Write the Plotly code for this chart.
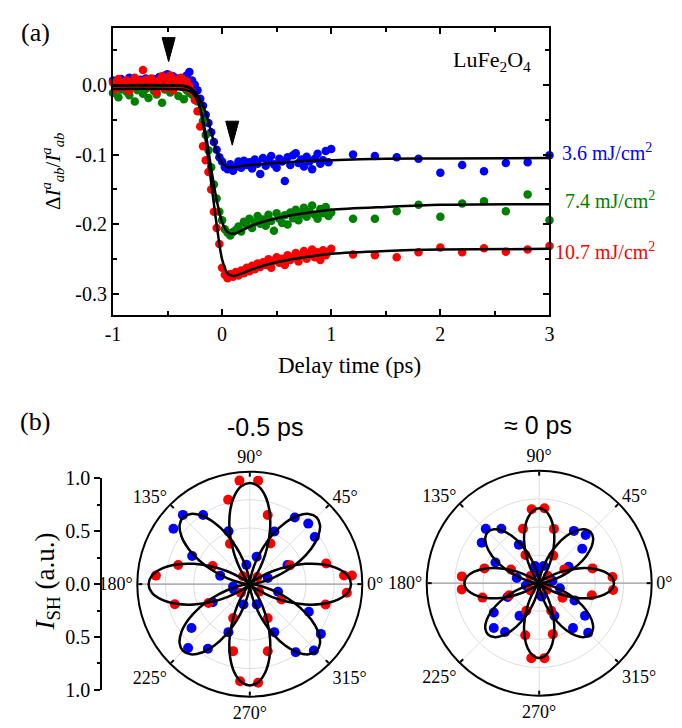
import plotly.graph_objects as go

W, H = 682, 728
SERIF = "Liberation Serif"
SANS = "Liberation Sans"

# ---------------- panel (a) data ----------------
delay_ps = [-1.0, -0.975, -0.95, -0.925, -0.9, -0.875, -0.85, -0.825, -0.8, -0.775,
            -0.75, -0.725, -0.7, -0.675, -0.65, -0.625, -0.6, -0.575, -0.55, -0.525,
            -0.5, -0.475, -0.45, -0.425, -0.4, -0.375, -0.35, -0.325, -0.3, -0.275,
            -0.25, -0.225, -0.2, -0.175, -0.15, -0.125, -0.1, -0.075, -0.05, -0.025,
            0.0, 0.025, 0.05, 0.075, 0.1, 0.125, 0.15, 0.175, 0.2, 0.225,
            0.25, 0.275, 0.3, 0.325, 0.35, 0.375, 0.4, 0.425, 0.45, 0.475,
            0.5, 0.525, 0.55, 0.575, 0.6, 0.625, 0.65, 0.675, 0.7, 0.725,
            0.75, 0.775, 0.8, 0.825, 0.85, 0.875, 0.9, 0.925, 0.95, 0.975,
            1.0, 1.2, 1.4, 1.6, 1.8, 2.0, 2.2, 2.4, 2.6, 2.8, 3.0]

signal_3p6 = [0.006, -0.005, 0.003, 0.008, -0.002, 0.004, 0.010, 0.001, 0.006, -0.003,
              0.007, 0.002, 0.009, 0.004, -0.001, 0.008, 0.005, 0.011, 0.003, 0.013,
              0.015, 0.007, 0.012, 0.004, 0.009, 0.002, 0.008, 0.013, 0.018, 0.006,
              0.000, -0.008, -0.020, -0.030, -0.043, -0.055, -0.068, -0.082, -0.093, -0.104,
              -0.110, -0.118, -0.121, -0.114, -0.123, -0.117, -0.110, -0.119, -0.109, -0.115,
              -0.111, -0.120, -0.107, -0.113, -0.128, -0.105, -0.116, -0.109, -0.102, -0.114,
              -0.119, -0.106, -0.110, -0.138, -0.104, -0.115, -0.101, -0.098, -0.112, -0.107,
              -0.117, -0.103, -0.110, -0.121, -0.106, -0.099, -0.113, -0.108, -0.095, -0.111,
              -0.092, -0.100, -0.102, -0.104, -0.106, -0.126, -0.115, -0.124, -0.112, -0.111, -0.101]

signal_7p4 = [-0.012, -0.004, -0.018, -0.007, 0.002, -0.010, -0.015, -0.003, -0.024, -0.008,
              -0.001, -0.013, -0.006, -0.019, 0.004, -0.009, -0.014, -0.002, -0.026, -0.007,
              0.008, -0.011, -0.004, 0.006, -0.016, -0.003, -0.021, -0.008, -0.012, -0.014,
              -0.018, -0.024, -0.038, -0.052, -0.072, -0.094, -0.118, -0.143, -0.163, -0.182,
              -0.194, -0.207, -0.212, -0.216, -0.211, -0.208, -0.203, -0.210, -0.196, -0.201,
              -0.192, -0.205, -0.197, -0.188, -0.199, -0.193, -0.202, -0.186, -0.195, -0.209,
              -0.184, -0.192, -0.198, -0.187, -0.200, -0.183, -0.191, -0.179, -0.194, -0.185,
              -0.176, -0.189, -0.182, -0.173, -0.186, -0.192, -0.178, -0.184, -0.175, -0.188,
              -0.183, -0.192, -0.192, -0.181, -0.172, -0.189, -0.170, -0.167, -0.181, -0.157, -0.194]

signal_10p7 = [0.003, -0.006, 0.008, 0.001, -0.004, 0.006, -0.009, 0.004, 0.010, -0.002,
               0.005, 0.021, 0.007, -0.003, 0.009, 0.002, -0.011, 0.006, 0.012, -0.005,
               0.004, 0.013, -0.008, 0.007, 0.001, 0.010, -0.004, 0.005, -0.002, -0.010,
               -0.022, -0.038, -0.060, -0.088, -0.108, -0.125, -0.150, -0.182, -0.205, -0.228,
               -0.262, -0.272, -0.277, -0.271, -0.275, -0.268, -0.273, -0.266, -0.270, -0.262,
               -0.267, -0.259, -0.264, -0.256, -0.261, -0.254, -0.258, -0.250, -0.262, -0.252,
               -0.247, -0.255, -0.249, -0.258, -0.244, -0.251, -0.247, -0.241, -0.253, -0.245,
               -0.238, -0.249, -0.242, -0.236, -0.247, -0.240, -0.251, -0.237, -0.244, -0.239,
               -0.235, -0.243, -0.244, -0.247, -0.240, -0.233, -0.240, -0.234, -0.239, -0.236, -0.231]

# fitted curves
fit_t_3p6 = [-1.0, -0.5, -0.35, -0.3, -0.25, -0.2, -0.15, -0.1, -0.05, 0.0, 0.05, 0.1,
             0.2, 0.4, 0.6, 0.8, 1.0, 1.5, 2.0, 3.0]
fit_3p6 = [-0.001, -0.001, -0.002, -0.004, -0.010, -0.022, -0.040, -0.068, -0.095, -0.112,
           -0.118, -0.118, -0.116, -0.113, -0.111, -0.109, -0.108, -0.106, -0.1055, -0.105]
fit_t_7p4 = [-1.0, -0.35, -0.3, -0.25, -0.2, -0.15, -0.1, -0.05, 0.0, 0.05, 0.1, 0.15,
             0.2, 0.3, 0.4, 0.6, 0.8, 1.0, 1.5, 2.0, 3.0]
fit_7p4 = [-0.006, -0.007, -0.009, -0.016, -0.035, -0.070, -0.120, -0.165, -0.197, -0.211,
           -0.2135, -0.211, -0.207, -0.200, -0.195, -0.188, -0.183, -0.179, -0.175, -0.172, -0.171]
fit_t_10p7 = fit_t_7p4
fit_10p7 = [-0.001, -0.002, -0.005, -0.012, -0.035, -0.080, -0.140, -0.200, -0.250, -0.270,
            -0.274, -0.272, -0.269, -0.263, -0.258, -0.251, -0.246, -0.242, -0.238, -0.236, -0.235]

series_names = ["3.6 mJ/cm<sup>2</sup>", "7.4 mJ/cm<sup>2</sup>", "10.7 mJ/cm<sup>2</sup>"]
series_colors = ["#0000FF", "#008000", "#FF0000"]

arrow_t = [-0.49, 0.093]
arrow_tip = [0.033, -0.0866]

# ---------------- panel (b) data ----------------
pol_angles = [0, 45, 90, 135, 180, 225, 270, 315]
pol_labels = ["0°", "45°", "90°", "135°", "180°", "225°", "270°", "315°"]

m05_red_theta = [95.7, 85.4, 104.4, 75.5, 116.2, 63, 131, 43.7, 224, 321, 25.2, 15.1, 5.2, 4.8,
                 354.9, 345, 334, 174.8, 165, 195, 153.9, 204.6, 244, 297.7, 256, 285, 264.3, 274.8]
m05_red_r = [0.925, 0.923, 0.774, 0.635, 0.40, 0.405, 0.093, 0.093, 0.11, 0.107, 0.395, 0.703, 0.841, 0.911,
             0.866, 0.697, 0.313, 0.838, 0.659, 0.69, 0.368, 0.404, 0.336, 0.342, 0.614, 0.617, 0.867, 0.88]
m05_blue_theta = [134, 124, 144, 154, 112, 164, 100, 76, 65, 56, 46, 36, 27, 345, 335, 325, 314,
                  304, 297, 289, 253, 246, 237, 226, 217, 206, 188, 19, 198]
m05_blue_r = [0.856, 0.742, 0.839, 0.57, 0.506, 0.274, 0.174, 0.252, 0.517, 0.715, 0.748, 0.714, 0.376,
              0.26, 0.579, 0.771, 0.82, 0.73, 0.479, 0.19, 0.19, 0.467, 0.684, 0.79, 0.649, 0.367, 0.15, 0.17, 0.15]

z0_red_theta = [95.8, 86, 106.6, 74.8, 116, 63, 4.8, 354.7, 15.5, 347, 28.7, 328, 175, 184.6, 164.9,
                194.3, 154, 202, 245, 293.6, 255, 285, 264, 274, 40, 140, 220, 320]
z0_red_r = [0.66, 0.668, 0.504, 0.50, 0.279, 0.275, 0.654, 0.66, 0.492, 0.48, 0.255, 0.244, 0.69, 0.69, 0.504,
            0.52, 0.279, 0.287, 0.27, 0.267, 0.48, 0.469, 0.67, 0.668, 0.10, 0.10, 0.10, 0.09]
z0_blue_theta = [134.5, 124.8, 144.8, 154.7, 117.8, 167, 103.5, 75.4, 56.4, 46, 38.7, 29, 346, 334, 324.5,
                 314.6, 307, 295, 212.8, 224.6, 235, 203.5, 239, 10, 190, 280, 100]
z0_blue_r = [0.677, 0.589, 0.625, 0.43, 0.387, 0.204, 0.157, 0.158, 0.558, 0.595, 0.49, 0.30, 0.19, 0.35, 0.5,
             0.62, 0.50, 0.32, 0.48, 0.567, 0.53, 0.307, 0.339, 0.12, 0.12, 0.12, 0.10]

# petal outline of the fit, offsets (deg) and relative radius
petal_offsets = [-45, -40, -35, -30, -25, -20, -15, -10, -5, 0, 5, 10, 15, 20, 25, 30, 35, 40, 45]
petal_profile = [0.0, 0.030, 0.117, 0.250, 0.413, 0.587, 0.750, 0.883, 0.970, 1.0,
                 0.970, 0.883, 0.750, 0.587, 0.413, 0.250, 0.117, 0.030, 0.0]
red_petal_centers = [0, 90, 180, 270]
blue_petal_centers = [45, 135, 225, 315]
m05_amp = {"red": 0.90, "blue": 0.84}
z0_amp = {"red": 0.665, "blue": 0.645}

grid_cross = [0, 180]


def petals(centers, amp):
    th, rr = [], []
    for c in centers:
        th += [c + o for o in petal_offsets]
        rr += [amp * p for p in petal_profile]
    return th, rr


fig = go.Figure()

# ---- panel (a)
sigs = [signal_3p6, signal_7p4, signal_10p7]
for s, col in zip(sigs, series_colors):
    fig.add_trace(go.Scatter(x=delay_ps, y=s, mode="markers", cliponaxis=False,
                             marker=dict(color=col, size=8.5, line=dict(width=0)),
                             hoverinfo="skip", showlegend=False))
for ft, fy in [(fit_t_3p6, fit_3p6), (fit_t_7p4, fit_7p4), (fit_t_10p7, fit_10p7)]:
    fig.add_trace(go.Scatter(x=ft, y=fy, mode="lines",
                             line=dict(color="black", width=2.5, shape="spline", smoothing=0.8),
                             hoverinfo="skip", showlegend=False))

# ---- panel (b) polar plots
def add_polar(subplot, red_t, red_r, blue_t, blue_r, amp):
    # gray cross lines
    for a in grid_cross:
        fig.add_trace(go.Scatterpolar(theta=[a, a, a + 180], r=[1, 0, 1], mode="lines",
                                      line=dict(color="#aaaaaa", width=1), subplot=subplot,
                                      hoverinfo="skip", showlegend=False))
    fig.add_trace(go.Scatterpolar(theta=blue_t, r=blue_r, mode="markers", subplot=subplot,
                                  marker=dict(color="#0000FF", size=10), hoverinfo="skip",
                                  showlegend=False))
    fig.add_trace(go.Scatterpolar(theta=red_t, r=red_r, mode="markers", subplot=subplot,
                                  marker=dict(color="#FF0000", size=10), hoverinfo="skip",
                                  showlegend=False))
    for centers, key in [(red_petal_centers, "red"), (blue_petal_centers, "blue")]:
        th, rr = petals(centers, amp[key])
        fig.add_trace(go.Scatterpolar(theta=th, r=rr, mode="lines", subplot=subplot,
                                      line=dict(color="black", width=2.5, shape="spline"),
                                      hoverinfo="skip", showlegend=False))


add_polar("polar", m05_red_theta, m05_red_r, m05_blue_theta, m05_blue_r, m05_amp)
add_polar("polar2", z0_red_theta, z0_red_r, z0_blue_theta, z0_blue_r, z0_amp)

# helper axis for I_SH scale
fig.add_trace(go.Scatter(x=[0], y=[0], xaxis="x2", yaxis="y2", mode="markers",
                         marker=dict(size=1, opacity=0), hoverinfo="skip", showlegend=False))

tickfont = dict(family=SERIF, size=20, color="black")
polfont = dict(family=SERIF, size=18, color="black")


def px_x(p):
    return p / W


def px_y(p):
    return 1 - p / H


polar_common = dict(
    bgcolor="white",
    angularaxis=dict(rotation=0, direction="counterclockwise", tickmode="array",
                     tickvals=pol_angles, ticktext=pol_labels, tickfont=polfont,
                     ticks="inside", ticklen=4, tickwidth=2, tickcolor="black",
                     showline=True, linecolor="black", linewidth=2,
                     showgrid=True, gridcolor="#dddddd", gridwidth=1),
    radialaxis=dict(range=[0, 1], showticklabels=False, ticks="", showline=False,
                    tickvals=[0.25, 0.5, 0.75], showgrid=True, gridcolor="#dddddd", gridwidth=1),
)

# polar circles: centre and half-size of domain
p1c, p1h = (246.5, 591.0), 116.0
p2c, p2h = (541.5, 590.0), 116.0

fig.update_layout(
    width=W, height=H, margin=dict(l=0, r=0, t=0, b=0),
    paper_bgcolor="white", plot_bgcolor="white", showlegend=False,
    xaxis=dict(domain=[px_x(107), px_x(552)], range=[-1, 3], tickmode="array",
               tickvals=[-1, 0, 1, 2, 3], ticktext=["-1", "0", "1", "2", "3"],
               ticks="inside", ticklen=6, tickwidth=2, tickcolor="black",
               minor=dict(tickvals=[-0.5, 0.5, 1.5, 2.5], ticks="inside", ticklen=4,
                          tickwidth=2, tickcolor="black"),
               showline=True, linecolor="black", linewidth=2, mirror="allticks",
               showgrid=False, zeroline=False, tickfont=tickfont, anchor="y"),
    yaxis=dict(domain=[px_y(313), px_y(18)], range=[-0.329, 0.0805], tickmode="array",
               tickvals=[0, -0.1, -0.2, -0.3], ticktext=["0.0", "-0.1", "-0.2", "-0.3"],
               ticks="inside", ticklen=6, tickwidth=2, tickcolor="black",
               minor=dict(tickvals=[0.05, -0.05, -0.15, -0.25], ticks="inside", ticklen=4,
                          tickwidth=2, tickcolor="black"),
               showline=True, linecolor="black", linewidth=2, mirror="allticks",
               showgrid=False, zeroline=False, tickfont=tickfont, anchor="x"),
    xaxis2=dict(domain=[0.13, 0.14], visible=False, anchor="y2", range=[-1, 1]),
    yaxis2=dict(domain=[px_y(700), px_y(482)], range=[-1, 1], anchor="free",
                position=px_x(95), tickmode="array", tickvals=[-1, -0.5, 0, 0.5, 1],
                ticktext=["1.0", "0.5", "0.0", "0.5", "1.0"], ticks="outside", ticklen=6,
                tickwidth=2, tickcolor="black",
                minor=dict(tickvals=[-0.75, -0.25, 0.25, 0.75], ticks="outside", ticklen=3,
                           tickwidth=2, tickcolor="black"),
                showline=True, linecolor="black", linewidth=2, showgrid=False,
                zeroline=False, tickfont=tickfont),
    polar=dict(domain=dict(x=[px_x(p1c[0] - p1h), px_x(p1c[0] + p1h)],
                           y=[px_y(p1c[1] + p1h), px_y(p1c[1] - p1h)]), **polar_common),
    polar2=dict(domain=dict(x=[px_x(p2c[0] - p2h), px_x(p2c[0] + p2h)],
                            y=[px_y(p2c[1] + p2h), px_y(p2c[1] - p2h)]), **polar_common),
)

# arrows (pixel-sized triangles anchored at their tips)
for t, yt in zip(arrow_t, arrow_tip):
    fig.add_shape(type="path", xref="x", yref="y", xsizemode="pixel", ysizemode="pixel",
                  xanchor=t, yanchor=yt, path="M 0 0 L -6.5 24 L 6.5 24 Z",
                  fillcolor="black", line=dict(color="black", width=1))

ann = []
ann.append(dict(text="(a)", x=px_x(28), y=px_y(22), font=dict(family=SERIF, size=26)))
ann.append(dict(text="(b)", x=px_x(28), y=px_y(423), font=dict(family=SERIF, size=26)))
ann.append(dict(text="LuFe<sub>2</sub>O<sub>4</sub>", x=px_x(535), y=px_y(52), xanchor="right",
                font=dict(family=SERIF, size=22)))
label_pos = [(563, 145), (566, 195), (556, 247)]
for name, col, (lx, ly) in zip(series_names, series_colors, label_pos):
    ann.append(dict(text=name, x=px_x(lx), y=px_y(ly), xanchor="left",
                    font=dict(family=SERIF, size=20, color=col)))
ann.append(dict(text="Delay time (ps)", x=px_x(348), y=px_y(366),
                font=dict(family=SERIF, size=23)))
ann.append(dict(text="Δ<i>I</i><sup><i>a</i></sup><sub><i>ab</i></sub>/<i>I</i><sup><i>a</i></sup><sub><i>ab</i></sub>",
                x=px_x(46), y=px_y(166), textangle=-90, font=dict(family=SERIF, size=21)))
ann.append(dict(text="-0.5 ps", x=px_x(262), y=px_y(429), font=dict(family=SANS, size=25)))
ann.append(dict(text="≈ 0 ps", x=px_x(540), y=px_y(427), font=dict(family=SANS, size=25)))
ann.append(dict(text="<i>I</i><sub>SH</sub> (a.u.)", x=px_x(40), y=px_y(588), textangle=-90,
                font=dict(family=SERIF, size=27)))
for a in ann:
    a.setdefault("xanchor", "center")
    a.update(xref="paper", yref="paper", showarrow=False, yanchor="middle")
    a["font"].setdefault("color", "black")
fig.update_layout(annotations=ann)

fig.write_html("out.html", config={"displayModeBar": False})
